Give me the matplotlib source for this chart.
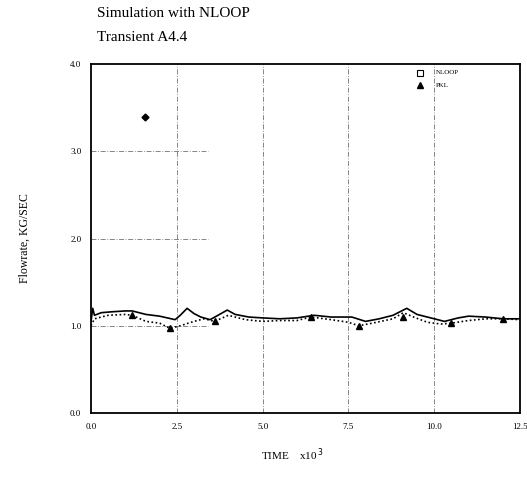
import matplotlib
matplotlib.use("Agg")
import matplotlib.pyplot as plt
import numpy as np

plt.rcParams['font.family'] = ['Liberation Serif', 'DejaVu Serif']

# NLOOP (solid line), time in 10^3 s
nloop_t = [0.0, 0.05, 0.1, 0.3, 0.6, 1.0, 1.2, 1.6, 2.0, 2.45, 2.6, 2.8, 3.0, 3.2, 3.47,
           3.7, 3.97, 4.2, 4.6, 5.0, 5.5, 6.0, 6.5, 7.0, 7.6, 8.0, 8.4, 8.8, 9.2, 9.5,
           9.9, 10.3, 10.7, 11.0, 11.5, 12.0, 12.5]
nloop_q = [1.05, 1.20, 1.12, 1.15, 1.16, 1.17, 1.17, 1.13, 1.11, 1.07, 1.12, 1.20, 1.14, 1.10, 1.07,
           1.12, 1.18, 1.13, 1.10, 1.09, 1.08, 1.09, 1.12, 1.10, 1.10, 1.05, 1.08, 1.12, 1.20, 1.13,
           1.09, 1.05, 1.09, 1.11, 1.10, 1.08, 1.08]

# PKL (dotted line)
pkl_t = [0.0, 0.1, 0.5, 1.0, 1.2, 1.6, 2.0, 2.3, 2.6, 3.0, 3.3, 3.6, 4.0, 4.5, 5.0, 5.5,
         6.0, 6.4, 7.0, 7.5, 7.8, 8.2, 8.8, 9.1, 9.4, 9.8, 10.2, 10.5, 11.0, 11.5, 12.0, 12.5]
pkl_q = [1.00, 1.08, 1.12, 1.13, 1.12, 1.05, 1.03, 0.97, 1.00, 1.05, 1.08, 1.05, 1.12, 1.07, 1.05, 1.06,
         1.06, 1.10, 1.07, 1.04, 1.00, 1.03, 1.08, 1.15, 1.10, 1.04, 1.02, 1.03, 1.06, 1.08, 1.08, 1.07]

pkl_mark_t = [1.2, 2.3, 3.6, 6.4, 7.8, 9.1, 10.5, 12.0]
pkl_mark_q = [1.12, 0.97, 1.05, 1.10, 1.00, 1.10, 1.03, 1.08]

outlier_t = [1.57]
outlier_q = [3.39]

xticks = [0.0, 2.5, 5.0, 7.5, 10.0, 12.5]
yticks = [0.0, 1.0, 2.0, 3.0, 4.0]

fig = plt.figure(figsize=(5.27, 4.88), dpi=100)
ax = fig.add_axes([0.1727, 0.1537, 0.814, 0.715])

# partial dash-dot grid like the scanned plot
for xv in xticks[1:-1]:
    ax.plot([xv, xv], [0, 4.0], color='0.45', lw=0.6, ls=(0, (6, 2, 1, 2)))
for yv in yticks[1:-1]:
    ax.plot([0, 3.4], [yv, yv], color='0.45', lw=0.6, ls=(0, (6, 2, 1, 2)))

ax.plot(nloop_t, nloop_q, color='black', lw=1.2, ls='-')
ax.plot(pkl_t, pkl_q, color='black', lw=1.2, ls=(0, (1, 1.5)))
ax.plot(pkl_mark_t, pkl_mark_q, ls='none', marker='^', color='black', ms=4)
ax.plot(outlier_t, outlier_q, ls='none', marker='D', color='black', ms=3.5)

# legend
ax.plot([9.6], [3.9], ls='none', marker='s', mfc='white', mec='black', ms=4, mew=0.8)
ax.text(10.05, 3.9, 'NLOOP', fontsize=5, va='center')
ax.plot([9.6], [3.76], ls='none', marker='^', color='black', ms=4)
ax.text(10.05, 3.76, 'PKL', fontsize=5, va='center')

ax.set_xlim(0, 12.5)
ax.set_ylim(0, 4.0)
ax.set_xticks(xticks)
ax.set_yticks(yticks)
ax.set_xticklabels(['%.1f' % v for v in xticks], fontsize=6.5)
ax.set_yticklabels(['%.1f' % v for v in yticks], fontsize=6.5)
ax.tick_params(length=0, pad=7)
for s in ax.spines.values():
    s.set_linewidth(1.3)

fig.text(0.184, 0.973, 'Simulation with NLOOP', fontsize=11, ha='left', va='center')
fig.text(0.184, 0.924, 'Transient A4.4', fontsize=11, ha='left', va='center')
ax.set_ylabel('Flowrate, KG/SEC', fontsize=8.5, labelpad=28)
fig.text(0.555, 0.068, r'TIME    x10$^{\,3}$', fontsize=8, ha='center', va='center')

fig.savefig('out.png', dpi=100)
